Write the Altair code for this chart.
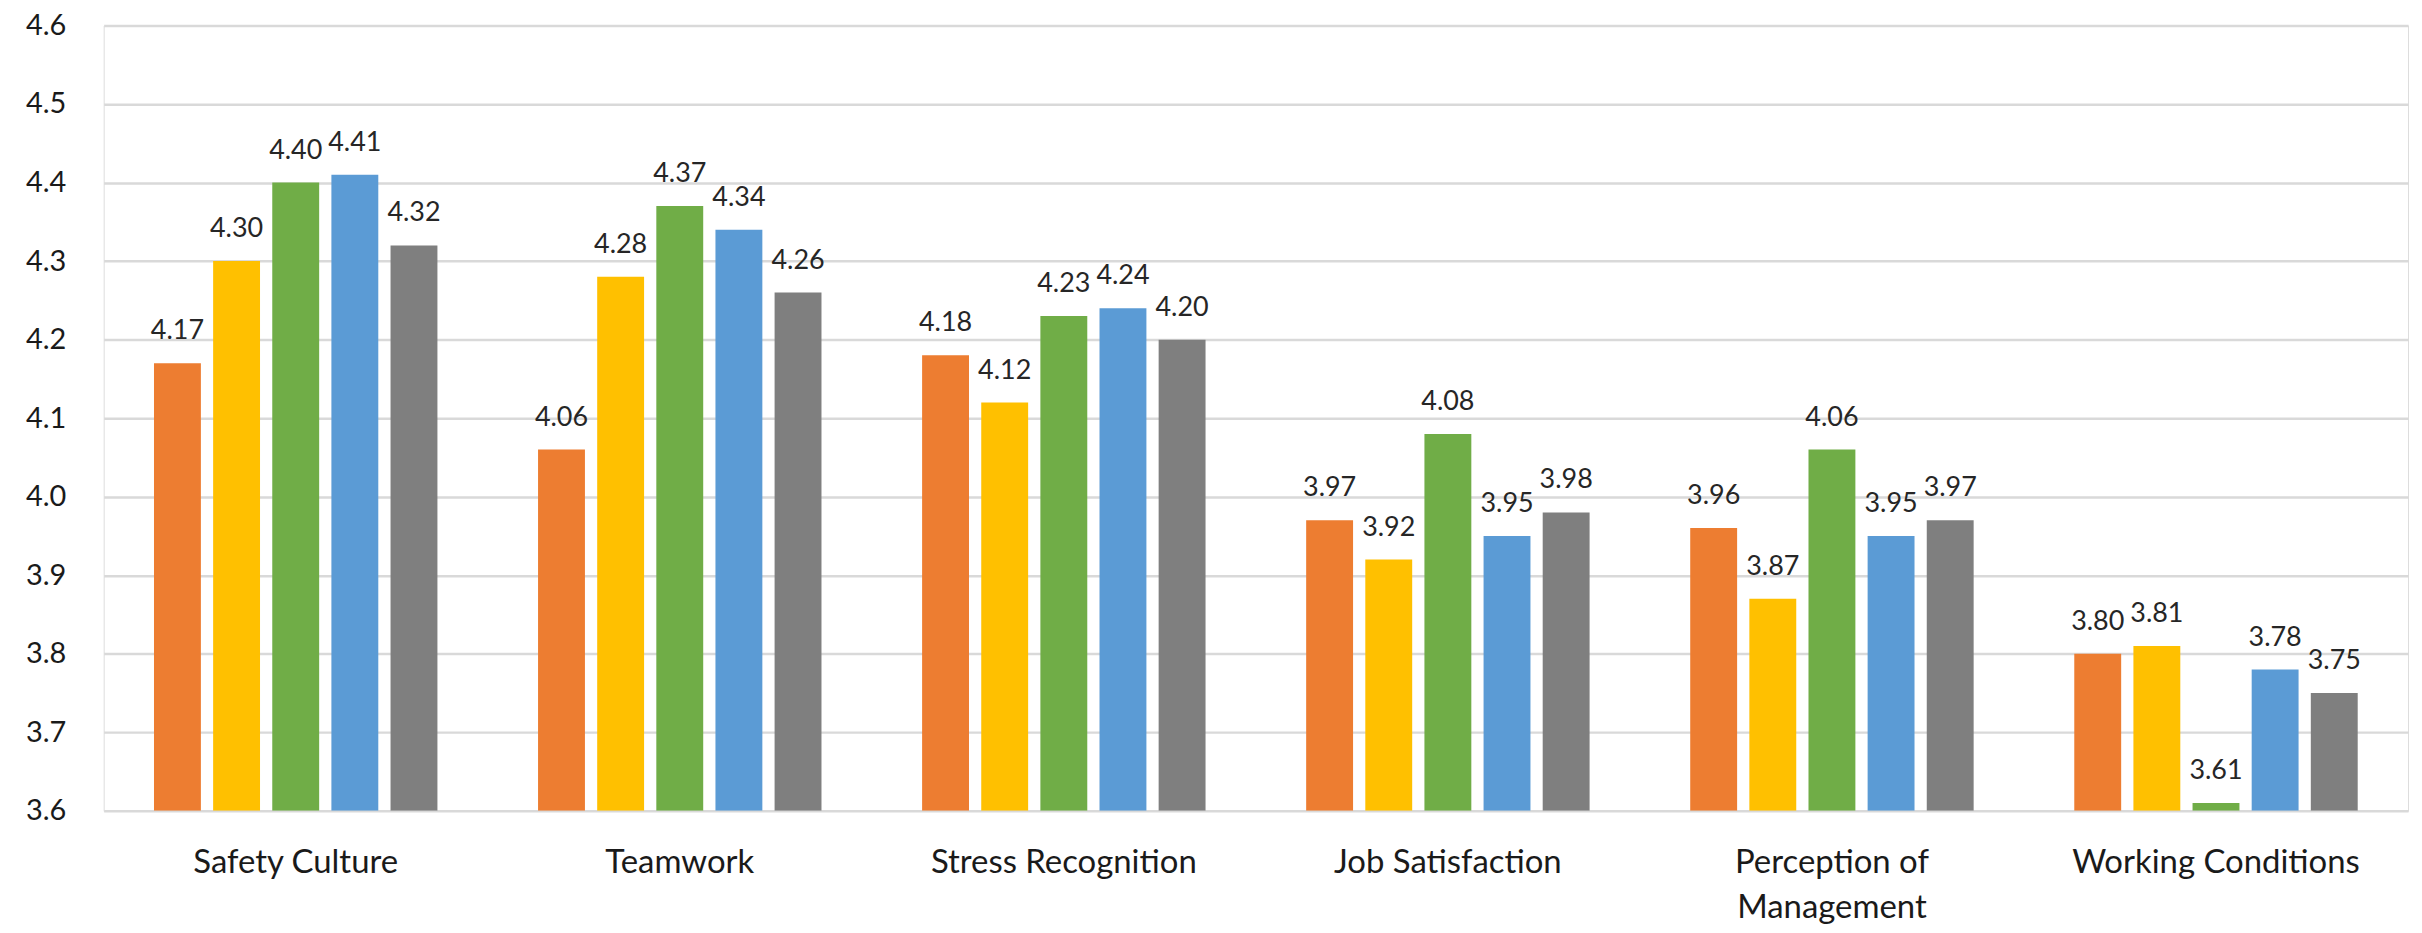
import altair as alt
import pandas as pd

categories = ["Safety Culture", "Teamwork", "Stress Recognition",
              "Job Satisfaction", "Perception of Management", "Working Conditions"]
series = ["Series 1", "Series 2", "Series 3", "Series 4", "Series 5"]
colors = ["#ED7D31", "#FFC000", "#70AD47", "#5B9BD5", "#7F7F7F"]

series1 = [4.17, 4.06, 4.18, 3.97, 3.96, 3.80]
series2 = [4.30, 4.28, 4.12, 3.92, 3.87, 3.81]
series3 = [4.40, 4.37, 4.23, 4.08, 4.06, 3.61]
series4 = [4.41, 4.34, 4.24, 3.95, 3.95, 3.78]
series5 = [4.32, 4.26, 4.20, 3.98, 3.97, 3.75]

y_ticks = [3.6, 3.7, 3.8, 3.9, 4.0, 4.1, 4.2, 4.3, 4.4, 4.5, 4.6]

rows = []
for s, vals in zip(series, [series1, series2, series3, series4, series5]):
    for c, v in zip(categories, vals):
        rows.append({"category": c, "series": s, "value": v})
df = pd.DataFrame(rows)

label_font = "Lato"

x = alt.X("category:N", sort=categories, title=None,
          scale=alt.Scale(paddingInner=0.262, paddingOuter=0.131),
          axis=alt.Axis(labelAngle=0, labelFont=label_font, labelFontSize=33,
                        labelColor="#1a1a1a", labelPadding=36, ticks=False,
                        domain=False, labelLineHeight=45, labelLimit=0,
                        labelExpr="datum.value == 'Perception of Management' ? ['Perception of', 'Management'] : datum.value"))
xoff = alt.XOffset("series:N", sort=series,
                   scale=alt.Scale(paddingInner=0.207, paddingOuter=0))
y = alt.Y("value:Q", title=None,
          scale=alt.Scale(domain=[3.6, 4.6], nice=False, zero=False),
          axis=alt.Axis(values=y_ticks, format=".1f", labelFont=label_font,
                        labelFontSize=29, labelColor="#1a1a1a", labelPadding=38,
                        ticks=False, domain=False, gridColor="#d9d9d9",
                        gridWidth=2.5))

bars = alt.Chart(df).mark_bar(clip=True).encode(
    x=x, xOffset=xoff, y=y, y2=alt.datum(3.6),
    color=alt.Color("series:N", sort=series,
                    scale=alt.Scale(domain=series, range=colors), legend=None),
)

labels = alt.Chart(df).mark_text(
    baseline="alphabetic", dy=-24, font=label_font, fontSize=27, color="#262626"
).encode(
    x=x, xOffset=xoff, y=y,
    text=alt.Text("value:Q", format=".2f"),
)

chart = alt.layer(bars, labels).properties(
    width=2312, height=788,
    autosize=alt.AutoSizeParams(type="none"),
    padding={"left": 96, "top": 16, "right": 6, "bottom": 117},
).configure_view(stroke=None).configure(background="white")

chart.save("out.html", embed_options={"renderer": "svg", "actions": False})
